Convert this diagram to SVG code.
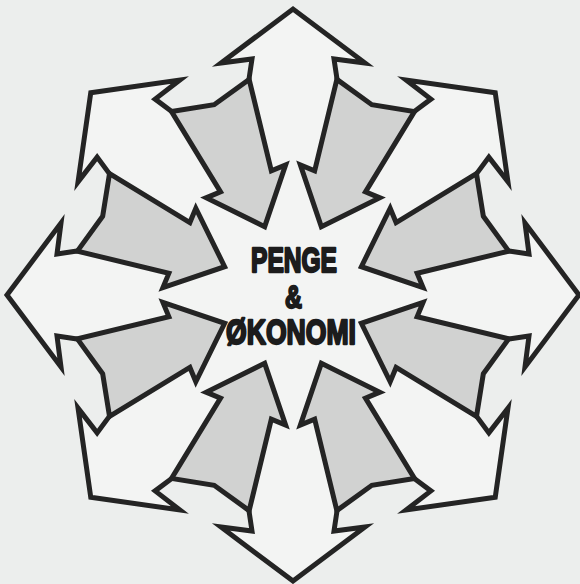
<svg xmlns="http://www.w3.org/2000/svg" xmlns:xlink="http://www.w3.org/1999/xlink" width="580" height="584" viewBox="0 0 580 584">
<style>
.out{fill:none;stroke:#242424;stroke-width:5;stroke-linejoin:miter;stroke-linecap:round}
.in{fill:#d1d2d1;stroke:#242424;stroke-width:5;stroke-linejoin:miter}
.lbl{font-family:"Liberation Sans",Arial,sans-serif;font-weight:700;fill:#1c1c1c;stroke:#1c1c1c;stroke-width:2.3;stroke-linejoin:round;text-anchor:middle}
</style>
<defs>
<polyline id="headShape" points="-44,-216 -41,-236 -72,-232 0,-286 72,-232 41,-236 44,-216"/>
<polygon id="inShape" points="-42,-216 0,-206 42,-216 27.5,-123 43,-123 0,-74 -43,-123 -27.5,-123"/>
</defs>
<rect width="580" height="584" fill="#eceeed"/>
<g transform="translate(293 295)">
<polygon id="star-fill" fill="#f3f4f3" points="-44,-216 -41,-236 -72,-232 0,-286 72,-232 41,-236 44,-216 78.8,-190.3 121.6,-183.8 137.9,-195.9 113.1,-215 202.2,-202.2 215,-113.1 195.9,-137.9 183.8,-121.6 190.3,-78.8 216,-44 236,-41 232,-72 286,0 232,72 236,41 216,44 190.3,78.8 183.8,121.6 195.9,137.9 215,113.1 202.2,202.2 113.1,215 137.9,195.9 121.6,183.8 78.8,190.3 44,216 41,236 72,232 0,286 -72,232 -41,236 -44,216 -78.8,190.3 -121.6,183.8 -137.9,195.9 -113.1,215 -202.2,202.2 -215,113.1 -195.9,137.9 -183.8,121.6 -190.3,78.8 -216,44 -236,41 -232,72 -286,0 -232,-72 -236,-41 -216,-44 -190.3,-78.8 -183.8,-121.6 -195.9,-137.9 -215,-113.1 -202.2,-202.2 -113.1,-215 -137.9,-195.9 -121.6,-183.8 -78.8,-190.3"/>
<g id="out-n"><use xlink:href="#headShape" class="out"/></g>
<g id="out-ne" transform="rotate(45)"><use xlink:href="#headShape" class="out"/></g>
<g id="out-e" transform="rotate(90)"><use xlink:href="#headShape" class="out"/></g>
<g id="out-se" transform="rotate(135)"><use xlink:href="#headShape" class="out"/></g>
<g id="out-s" transform="rotate(180)"><use xlink:href="#headShape" class="out"/></g>
<g id="out-sw" transform="rotate(225)"><use xlink:href="#headShape" class="out"/></g>
<g id="out-w" transform="rotate(270)"><use xlink:href="#headShape" class="out"/></g>
<g id="out-nw" transform="rotate(315)"><use xlink:href="#headShape" class="out"/></g>
<g id="in-nne" transform="rotate(22.5)"><use xlink:href="#inShape" class="in"/></g>
<g id="in-ene" transform="rotate(67.5)"><use xlink:href="#inShape" class="in"/></g>
<g id="in-ese" transform="rotate(112.5)"><use xlink:href="#inShape" class="in"/></g>
<g id="in-sse" transform="rotate(157.5)"><use xlink:href="#inShape" class="in"/></g>
<g id="in-ssw" transform="rotate(202.5)"><use xlink:href="#inShape" class="in"/></g>
<g id="in-wsw" transform="rotate(247.5)"><use xlink:href="#inShape" class="in"/></g>
<g id="in-wnw" transform="rotate(292.5)"><use xlink:href="#inShape" class="in"/></g>
<g id="in-nnw" transform="rotate(337.5)"><use xlink:href="#inShape" class="in"/></g>
</g>
<g id="title">
<text class="lbl" x="294" y="272" font-size="35" textLength="86" lengthAdjust="spacingAndGlyphs">PENGE</text>
<text class="lbl" x="293.5" y="308" font-size="32" textLength="17" lengthAdjust="spacingAndGlyphs">&amp;</text>
<text class="lbl" x="291" y="344" font-size="35" textLength="130" lengthAdjust="spacingAndGlyphs">ØKONOMI</text>
</g>
</svg>
